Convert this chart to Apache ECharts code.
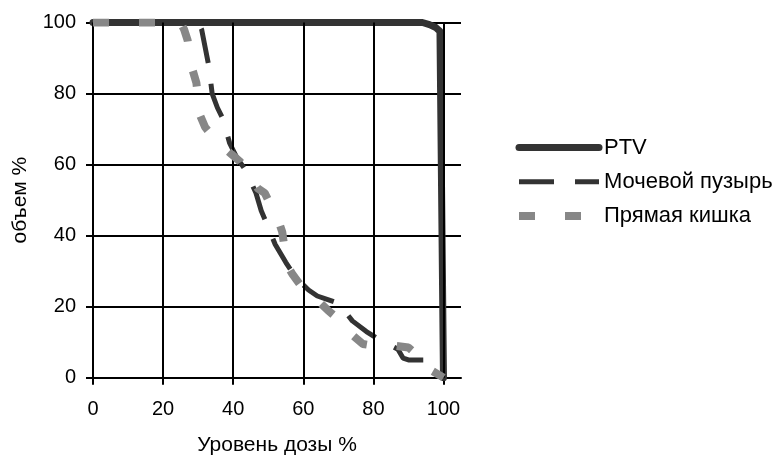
<!DOCTYPE html>
<html>
<head>
<meta charset="utf-8">
<script src="https://cdn.jsdelivr.net/npm/echarts@6/dist/echarts.min.js"></script>
<style>
html,body{margin:0;padding:0;background:#fff;}
#chart{width:778px;height:456px;}
</style>
</head>
<body>
<div id="chart"></div>
<script>
const seriesNames = ['PTV', 'Мочевой пузырь', 'Прямая кишка'];
const xTicks = [0, 20, 40, 60, 80, 100];
const yTicks = [0, 20, 40, 60, 80, 100];

const ptv = [[0,100],[94,100],[96,99.4],[97.8,98.6],[99,97.5],[100,0]];
const bladder = [[0,100],[30,100],[31,98],[32,93],[33,88],[34,80],[35.5,76],[37,73],[39,66],[41,62],[43.5,58.5],[46.5,52],[48,47],[49.5,43.5],[52,37.5],[55,32.5],[58,28],[61.5,24.7],[64,23],[67,22],[70,21],[74,16],[78,13],[81.5,10.8],[85,9],[87,8],[88.5,5.5],[90,5],[95.5,5],[98,3],[100,0]];
const rectum = [[0,100],[25,100],[26,98],[27,95],[28,88],[29.5,83],[30.5,74],[32,70.5],[35,67],[38.5,63.8],[42,60.8],[44.5,57],[47,53.3],[49,52],[51,48],[53,44],[54,41],[55,34],[55.5,31.5],[57,29],[60,25],[64.5,21.4],[67,19],[70,16.5],[74,12],[77,9.5],[80,9],[86,9],[90,8.5],[93,6],[96.3,2.2],[98.7,0.8],[100,0]];

const FONT = 'Liberation Sans, Arial, sans-serif';
const DARK = '#333333';
const GRAY = '#878787';
const ptvStyle = { color: DARK, width: 7, cap: 'round', join: 'round' };
const bladderStyle = { color: DARK, width: 5, type: [35, 21], cap: 'butt' };
const rectumStyle = { color: GRAY, width: 8, type: [16, 30], cap: 'butt' };
const styles = [ptvStyle, bladderStyle, rectumStyle];

const chart = echarts.init(document.getElementById('chart'));
chart.setOption({
  animation: false,
  backgroundColor: '#fff',
  grid: { left: 93, right: 317, top: 22.5, bottom: 78.3, containLabel: false, outerBoundsMode: 'none' },
  legend: {
    orient: 'vertical', left: 515, top: 136.5, itemWidth: 80, itemHeight: 20, itemGap: 12.3, padding: 0,
    textStyle: { fontFamily: FONT, fontSize: 22, color: '#000' },
    data: seriesNames.map((n, i) => ({
      name: n,
      itemStyle: { opacity: 0, color: 'rgba(0,0,0,0)', borderWidth: 0 },
      lineStyle: Object.assign({}, styles[i], { opacity: 1 })
    }))
  },
  xAxis: {
    type: 'value', min: 0, max: 105, interval: 20,
    name: 'Уровень дозы %', nameLocation: 'middle', nameGap: 57,
    nameTextStyle: { fontFamily: FONT, fontSize: 21, color: '#000' },
    axisLine: { show: true, lineStyle: { color: '#000', width: 2 } },
    axisTick: { show: true, length: 7, lineStyle: { color: '#000', width: 2 }, customValues: xTicks },
    axisLabel: { fontFamily: FONT, fontSize: 20, color: '#000', margin: 22, customValues: xTicks },
    splitLine: { show: false }
  },
  yAxis: {
    type: 'value', min: 0, max: 100, interval: 20,
    name: 'объем %', nameLocation: 'middle', nameGap: 62,
    nameTextStyle: { fontFamily: FONT, fontSize: 21, color: '#000' },
    axisLine: { show: true, lineStyle: { color: '#000', width: 2 } },
    axisTick: { show: true, length: 7, lineStyle: { color: '#000', width: 2 } },
    axisLabel: { fontFamily: FONT, fontSize: 20, color: '#000', margin: 17 },
    splitLine: { show: true, lineStyle: { color: '#000', width: 2 } }
  },
  series: [
    {
      type: 'line', data: [], z: 1, silent: true,
      markLine: {
        silent: true, symbol: 'none', animation: false,
        label: { show: false },
        lineStyle: { color: '#000', width: 2, type: 'solid' },
        emphasis: { disabled: true },
        data: xTicks.map(v => ({ xAxis: v }))
      }
    },
    {
      name: seriesNames[0], type: 'line', data: ptv, showSymbol: false, symbol: 'none', z: 3,
      lineStyle: ptvStyle, itemStyle: { color: DARK }
    },
    {
      name: seriesNames[1], type: 'line', data: bladder, showSymbol: false, symbol: 'none', z: 4,
      lineStyle: bladderStyle, itemStyle: { color: DARK }
    },
    {
      name: seriesNames[2], type: 'line', data: rectum, showSymbol: false, symbol: 'none', z: 5,
      lineStyle: rectumStyle, itemStyle: { color: GRAY }
    }
  ]
});
</script>
</body>
</html>
